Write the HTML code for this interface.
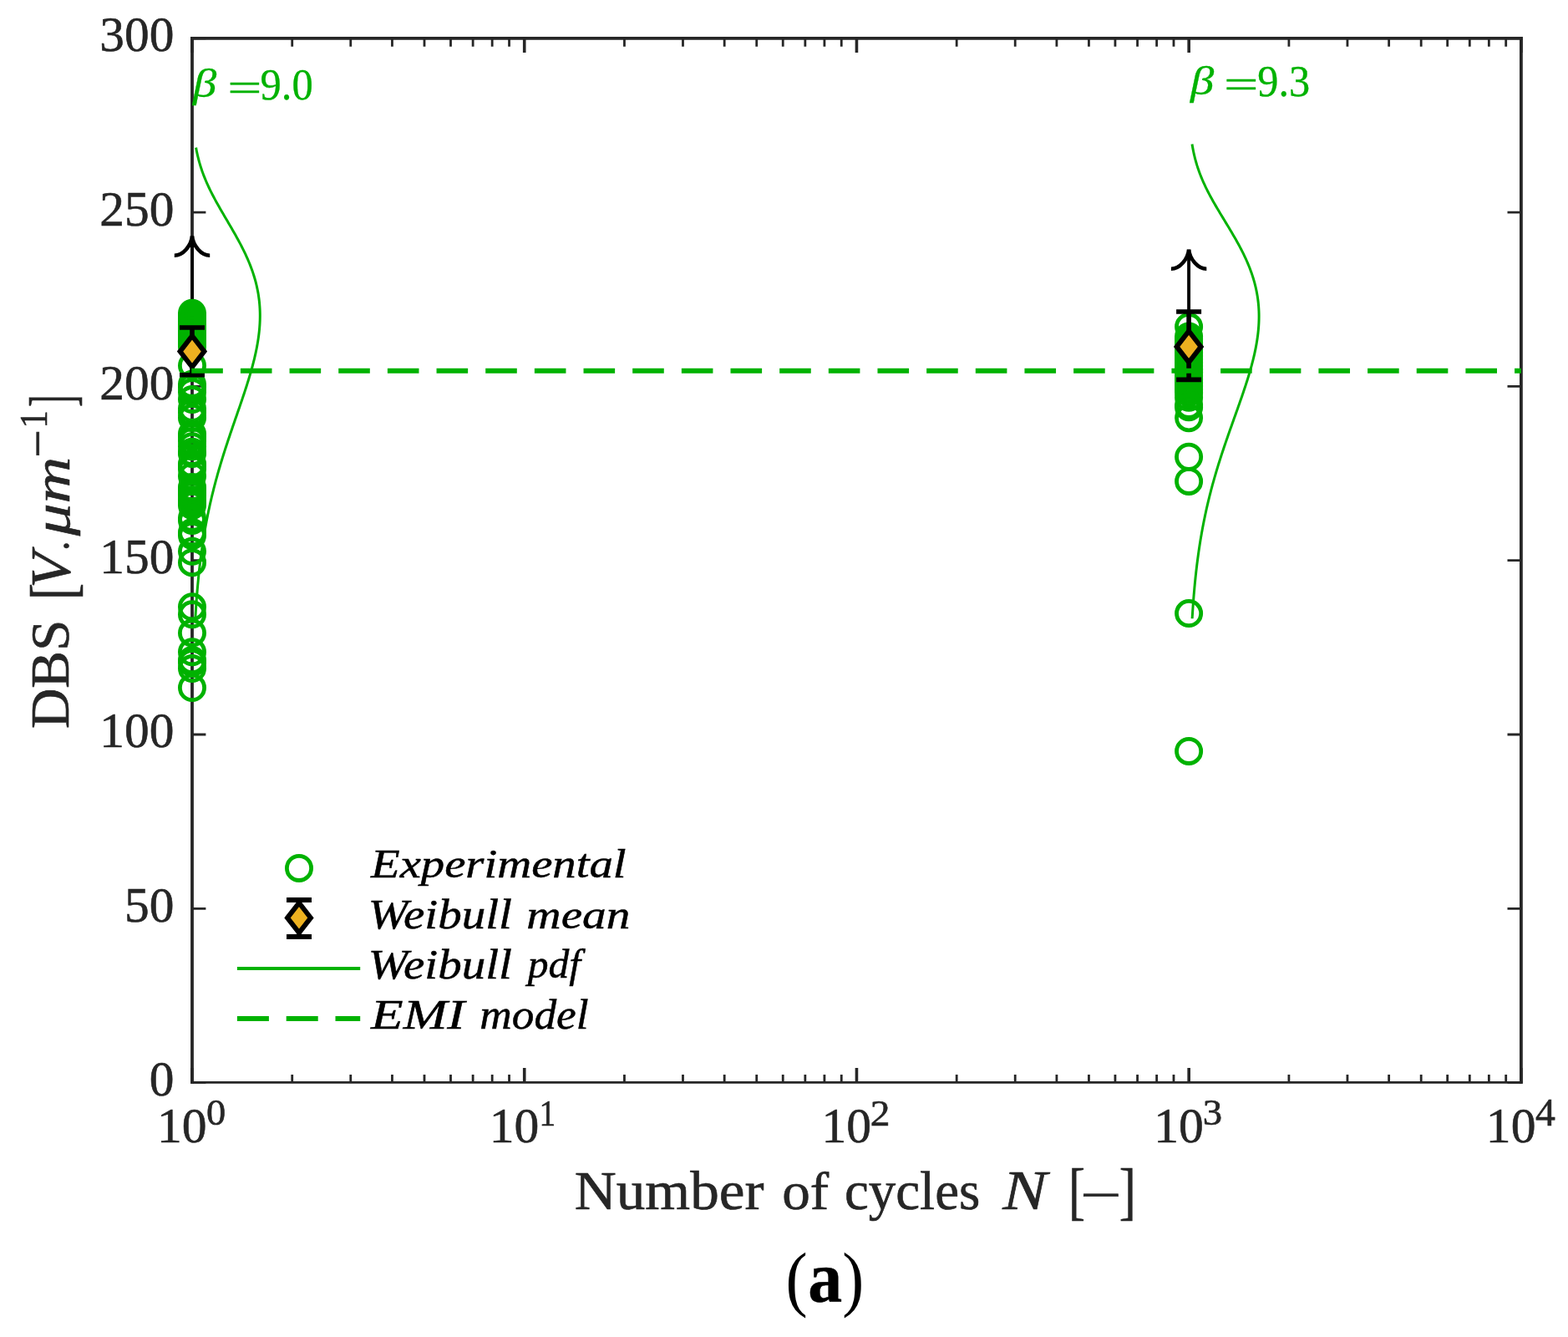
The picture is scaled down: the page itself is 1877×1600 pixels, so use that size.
<!DOCTYPE html>
<html><head><meta charset="utf-8"><title>DBS vs number of cycles</title><style>html,body{margin:0;padding:0;background:#fff;overflow:hidden}svg{display:block}</style></head><body>
<svg width="1877" height="1600" viewBox="0 0 1877 1600" font-family="'Liberation Serif', serif">
<rect width="1877" height="1600" fill="#fff"/>
<path d="M230.00 1295.30H246.40M1820.90 1295.30H1804.50M230.00 1087.30H246.40M1820.90 1087.30H1804.50M230.00 879.00H246.40M1820.90 879.00H1804.50M230.00 670.70H246.40M1820.90 670.70H1804.50M230.00 462.40H246.40M1820.90 462.40H1804.50M230.00 254.10H246.40M1820.90 254.10H1804.50M230.00 45.90H246.40M1820.90 45.90H1804.50" stroke="#262626" stroke-width="2.8" fill="none"/>
<path d="M230.00 1295.30V1278.10M230.00 45.90V63.10M627.73 1295.30V1278.10M627.73 45.90V63.10M1025.45 1295.30V1278.10M1025.45 45.90V63.10M1423.18 1295.30V1278.10M1423.18 45.90V63.10M1820.90 1295.30V1278.10M1820.90 45.90V63.10" stroke="#262626" stroke-width="3.6" fill="none"/>
<path d="M349.73 1295.30V1285.90M349.73 45.90V55.70M419.76 1295.30V1285.90M419.76 45.90V55.70M469.45 1295.30V1285.90M469.45 45.90V55.70M508.00 1295.30V1285.90M508.00 45.90V55.70M539.49 1295.30V1285.90M539.49 45.90V55.70M566.12 1295.30V1285.90M566.12 45.90V55.70M589.18 1295.30V1285.90M589.18 45.90V55.70M609.53 1295.30V1285.90M609.53 45.90V55.70M747.45 1295.30V1285.90M747.45 45.90V55.70M817.49 1295.30V1285.90M817.49 45.90V55.70M867.18 1295.30V1285.90M867.18 45.90V55.70M905.72 1295.30V1285.90M905.72 45.90V55.70M937.22 1295.30V1285.90M937.22 45.90V55.70M963.84 1295.30V1285.90M963.84 45.90V55.70M986.91 1295.30V1285.90M986.91 45.90V55.70M1007.25 1295.30V1285.90M1007.25 45.90V55.70M1145.18 1295.30V1285.90M1145.18 45.90V55.70M1215.21 1295.30V1285.90M1215.21 45.90V55.70M1264.90 1295.30V1285.90M1264.90 45.90V55.70M1303.45 1295.30V1285.90M1303.45 45.90V55.70M1334.94 1295.30V1285.90M1334.94 45.90V55.70M1361.57 1295.30V1285.90M1361.57 45.90V55.70M1384.63 1295.30V1285.90M1384.63 45.90V55.70M1404.98 1295.30V1285.90M1404.98 45.90V55.70M1542.90 1295.30V1285.90M1542.90 45.90V55.70M1612.94 1295.30V1285.90M1612.94 45.90V55.70M1662.63 1295.30V1285.90M1662.63 45.90V55.70M1701.17 1295.30V1285.90M1701.17 45.90V55.70M1732.67 1295.30V1285.90M1732.67 45.90V55.70M1759.29 1295.30V1285.90M1759.29 45.90V55.70M1782.36 1295.30V1285.90M1782.36 45.90V55.70M1802.70 1295.30V1285.90M1802.70 45.90V55.70" stroke="#262626" stroke-width="2.8" fill="none"/>
<path d="M230.0 44.0V1296.7M1820.9 44.0V1296.7" stroke="#262626" stroke-width="3.8" fill="none"/>
<path d="M228.1 45.9H1822.8000000000002" stroke="#262626" stroke-width="3.8" fill="none"/>
<path d="M228.1 1295.3H1822.8000000000002" stroke="#262626" stroke-width="2.8" fill="none"/>
<path d="M230.00 420.60V284.40" stroke="#000" stroke-width="3.9" fill="none"/><path d="M230.00 282.50C229.00 294.00 219.00 305.70 208.80 305.70" stroke="#000" stroke-width="4.6" fill="none"/><path d="M230.00 282.50C231.00 294.00 241.00 305.70 251.20 305.70" stroke="#000" stroke-width="4.6" fill="none"/>
<path d="M1423.10 415.00V300.50" stroke="#000" stroke-width="3.9" fill="none"/><path d="M1423.10 298.60C1422.10 310.10 1412.10 321.80 1401.90 321.80" stroke="#000" stroke-width="4.6" fill="none"/><path d="M1423.10 298.60C1424.10 310.10 1434.10 321.80 1444.30 321.80" stroke="#000" stroke-width="4.6" fill="none"/>
<g fill="none" stroke="rgb(0,178,0)" stroke-width="4.8"><circle cx="230.0" cy="374.75" r="14.6"/><circle cx="230.0" cy="378.00" r="14.6"/><circle cx="230.0" cy="381.00" r="14.6"/><circle cx="230.0" cy="384.00" r="14.6"/><circle cx="230.0" cy="387.50" r="14.6"/><circle cx="230.0" cy="391.00" r="14.6"/><circle cx="230.0" cy="395.00" r="14.6"/><circle cx="230.0" cy="399.00" r="14.6"/><circle cx="230.0" cy="403.00" r="14.6"/><circle cx="230.0" cy="407.00" r="14.6"/><circle cx="230.0" cy="411.00" r="14.6"/><circle cx="230.0" cy="415.00" r="14.6"/><circle cx="230.0" cy="437.50" r="14.6"/><circle cx="230.0" cy="459.80" r="14.6"/><circle cx="230.0" cy="463.50" r="14.6"/><circle cx="230.0" cy="469.20" r="14.6"/><circle cx="230.0" cy="478.10" r="14.6"/><circle cx="230.0" cy="488.80" r="14.6"/><circle cx="230.0" cy="494.00" r="14.6"/><circle cx="230.0" cy="500.00" r="14.6"/><circle cx="230.0" cy="519.00" r="14.6"/><circle cx="230.0" cy="523.00" r="14.6"/><circle cx="230.0" cy="528.00" r="14.6"/><circle cx="230.0" cy="534.20" r="14.6"/><circle cx="230.0" cy="540.75" r="14.6"/><circle cx="230.0" cy="543.00" r="14.6"/><circle cx="230.0" cy="555.00" r="14.6"/><circle cx="230.0" cy="558.00" r="14.6"/><circle cx="230.0" cy="561.50" r="14.6"/><circle cx="230.0" cy="570.00" r="14.6"/><circle cx="230.0" cy="583.00" r="14.6"/><circle cx="230.0" cy="587.00" r="14.6"/><circle cx="230.0" cy="590.00" r="14.6"/><circle cx="230.0" cy="593.00" r="14.6"/><circle cx="230.0" cy="598.00" r="14.6"/><circle cx="230.0" cy="601.00" r="14.6"/><circle cx="230.0" cy="605.00" r="14.6"/><circle cx="230.0" cy="619.80" r="14.6"/><circle cx="230.0" cy="623.00" r="14.6"/><circle cx="230.0" cy="637.00" r="14.6"/><circle cx="230.0" cy="641.00" r="14.6"/><circle cx="230.0" cy="659.80" r="14.6"/><circle cx="230.0" cy="673.20" r="14.6"/><circle cx="230.0" cy="726.30" r="14.6"/><circle cx="230.0" cy="735.30" r="14.6"/><circle cx="230.0" cy="757.50" r="14.6"/><circle cx="230.0" cy="780.25" r="14.6"/><circle cx="230.0" cy="790.00" r="14.6"/><circle cx="230.0" cy="793.20" r="14.6"/><circle cx="230.0" cy="800.00" r="14.6"/><circle cx="230.0" cy="823.00" r="14.6"/><circle cx="1423.1" cy="391.00" r="14.6"/><circle cx="1423.1" cy="402.50" r="14.6"/><circle cx="1423.1" cy="406.00" r="14.6"/><circle cx="1423.1" cy="410.00" r="14.6"/><circle cx="1423.1" cy="414.00" r="14.6"/><circle cx="1423.1" cy="418.00" r="14.6"/><circle cx="1423.1" cy="422.00" r="14.6"/><circle cx="1423.1" cy="426.00" r="14.6"/><circle cx="1423.1" cy="430.00" r="14.6"/><circle cx="1423.1" cy="434.00" r="14.6"/><circle cx="1423.1" cy="438.00" r="14.6"/><circle cx="1423.1" cy="442.00" r="14.6"/><circle cx="1423.1" cy="446.00" r="14.6"/><circle cx="1423.1" cy="450.00" r="14.6"/><circle cx="1423.1" cy="454.00" r="14.6"/><circle cx="1423.1" cy="458.00" r="14.6"/><circle cx="1423.1" cy="462.00" r="14.6"/><circle cx="1423.1" cy="466.00" r="14.6"/><circle cx="1423.1" cy="470.00" r="14.6"/><circle cx="1423.1" cy="475.75" r="14.6"/><circle cx="1423.1" cy="484.85" r="14.6"/><circle cx="1423.1" cy="487.30" r="14.6"/><circle cx="1423.1" cy="500.20" r="14.6"/><circle cx="1423.1" cy="546.75" r="14.6"/><circle cx="1423.1" cy="575.90" r="14.6"/><circle cx="1423.1" cy="734.05" r="14.6"/><circle cx="1423.1" cy="898.90" r="14.6"/></g>
<path d="M230.00 392.00V448.70M215.00 392.00H245.00M215.00 448.70H245.00" stroke="#000" stroke-width="5.6" fill="none"/><path d="M215.50 420.60L230.00 402.00L244.50 420.60L230.00 439.20Z" fill="#EDB120" stroke="#000" stroke-width="5.8" stroke-linejoin="miter" stroke-miterlimit="10"/>
<path d="M1423.10 373.00V454.40M1408.10 373.00H1438.10M1408.10 454.40H1438.10" stroke="#000" stroke-width="5.6" fill="none"/><path d="M1408.60 414.90L1423.10 396.30L1437.60 414.90L1423.10 433.50Z" fill="#EDB120" stroke="#000" stroke-width="5.8" stroke-linejoin="miter" stroke-miterlimit="10"/>
<path d="M229.24 443.8H1820.9" stroke="rgb(0,178,0)" stroke-width="6" stroke-dasharray="37.6 21.06" fill="none"/>
<path d="M233.85 739.86 L234.01 737.03 L234.18 734.19 L234.36 731.36 L234.54 728.53 L234.72 725.70 L234.92 722.87 L235.12 720.04 L235.32 717.21 L235.54 714.38 L235.76 711.55 L235.99 708.72 L236.22 705.89 L236.46 703.06 L236.72 700.23 L236.98 697.40 L237.24 694.57 L237.52 691.74 L237.80 688.91 L238.10 686.08 L238.40 683.25 L238.71 680.42 L239.04 677.59 L239.37 674.76 L239.71 671.93 L240.06 669.10 L240.42 666.27 L240.79 663.44 L241.17 660.61 L241.57 657.77 L241.97 654.94 L242.39 652.11 L242.81 649.28 L243.25 646.45 L243.70 643.62 L244.16 640.79 L244.63 637.96 L245.12 635.13 L245.62 632.30 L246.12 629.47 L246.65 626.64 L247.18 623.81 L247.73 620.98 L248.29 618.15 L248.86 615.32 L249.45 612.49 L250.05 609.66 L250.66 606.83 L251.28 604.00 L251.92 601.17 L252.57 598.34 L253.24 595.51 L253.92 592.68 L254.61 589.85 L255.31 587.02 L256.03 584.19 L256.76 581.36 L257.50 578.52 L258.26 575.69 L259.03 572.86 L259.81 570.03 L260.60 567.20 L261.41 564.37 L262.23 561.54 L263.06 558.71 L263.90 555.88 L264.75 553.05 L265.61 550.22 L266.49 547.39 L267.37 544.56 L268.26 541.73 L269.17 538.90 L270.08 536.07 L271.00 533.24 L271.93 530.41 L272.87 527.58 L273.81 524.75 L274.76 521.92 L275.72 519.09 L276.68 516.26 L277.65 513.43 L278.62 510.60 L279.59 507.77 L280.57 504.94 L281.55 502.10 L282.53 499.27 L283.51 496.44 L284.49 493.61 L285.47 490.78 L286.45 487.95 L287.42 485.12 L288.39 482.29 L289.35 479.46 L290.31 476.63 L291.26 473.80 L292.21 470.97 L293.14 468.14 L294.07 465.31 L294.98 462.48 L295.88 459.65 L296.77 456.82 L297.64 453.99 L298.50 451.16 L299.34 448.33 L300.16 445.50 L300.97 442.67 L301.75 439.84 L302.51 437.01 L303.25 434.18 L303.96 431.35 L304.65 428.52 L305.31 425.68 L305.95 422.85 L306.55 420.02 L307.13 417.19 L307.67 414.36 L308.18 411.53 L308.65 408.70 L309.09 405.87 L309.50 403.04 L309.86 400.21 L310.19 397.38 L310.47 394.55 L310.72 391.72 L310.92 388.89 L311.07 386.06 L311.19 383.23 L311.25 380.40 L311.28 377.57 L311.25 374.74 L311.17 371.91 L311.05 369.08 L310.87 366.25 L310.64 363.42 L310.37 360.59 L310.04 357.76 L309.65 354.93 L309.22 352.10 L308.73 349.26 L308.18 346.43 L307.58 343.60 L306.93 340.77 L306.23 337.94 L305.47 335.11 L304.65 332.28 L303.79 329.45 L302.87 326.62 L301.89 323.79 L300.87 320.96 L299.79 318.13 L298.67 315.30 L297.50 312.47 L296.28 309.64 L295.01 306.81 L293.70 303.98 L292.35 301.15 L290.96 298.32 L289.53 295.49 L288.07 292.66 L286.57 289.83 L285.04 287.00 L283.48 284.17 L281.90 281.34 L280.30 278.51 L278.68 275.68 L277.04 272.84 L275.39 270.01 L273.73 267.18 L272.06 264.35 L270.40 261.52 L268.74 258.69 L267.08 255.86 L265.43 253.03 L263.80 250.20 L262.18 247.37 L260.58 244.54 L259.01 241.71 L257.46 238.88 L255.95 236.05 L254.47 233.22 L253.02 230.39 L251.62 227.56 L250.25 224.73 L248.93 221.90 L247.66 219.07 L246.43 216.24 L245.26 213.41 L244.13 210.58 L243.05 207.75 L242.03 204.92 L241.06 202.09 L240.14 199.26 L239.27 196.42 L238.46 193.59 L237.70 190.76 L236.98 187.93 L236.32 185.10 L235.70 182.27 L235.12 179.44 L234.60 176.61" stroke="rgb(0,178,0)" stroke-width="3" fill="none" stroke-linejoin="round"/>
<path d="M1427.13 740.27 L1427.30 737.42 L1427.48 734.57 L1427.66 731.71 L1427.85 728.86 L1428.05 726.01 L1428.26 723.15 L1428.47 720.30 L1428.69 717.45 L1428.91 714.59 L1429.14 711.74 L1429.39 708.88 L1429.64 706.03 L1429.89 703.18 L1430.16 700.32 L1430.43 697.47 L1430.72 694.62 L1431.01 691.76 L1431.31 688.91 L1431.62 686.06 L1431.94 683.20 L1432.27 680.35 L1432.61 677.50 L1432.96 674.64 L1433.33 671.79 L1433.70 668.94 L1434.08 666.08 L1434.47 663.23 L1434.88 660.38 L1435.29 657.52 L1435.72 654.67 L1436.16 651.82 L1436.61 648.96 L1437.08 646.11 L1437.55 643.26 L1438.04 640.40 L1438.54 637.55 L1439.06 634.70 L1439.58 631.84 L1440.12 628.99 L1440.68 626.14 L1441.24 623.28 L1441.82 620.43 L1442.41 617.58 L1443.02 614.72 L1443.64 611.87 L1444.27 609.02 L1444.92 606.16 L1445.58 603.31 L1446.26 600.46 L1446.95 597.60 L1447.65 594.75 L1448.37 591.90 L1449.10 589.04 L1449.84 586.19 L1450.60 583.34 L1451.37 580.48 L1452.16 577.63 L1452.95 574.78 L1453.77 571.92 L1454.59 569.07 L1455.43 566.22 L1456.28 563.36 L1457.14 560.51 L1458.01 557.65 L1458.90 554.80 L1459.79 551.95 L1460.70 549.09 L1461.62 546.24 L1462.55 543.39 L1463.49 540.53 L1464.44 537.68 L1465.40 534.83 L1466.36 531.97 L1467.34 529.12 L1468.32 526.27 L1469.31 523.41 L1470.30 520.56 L1471.30 517.71 L1472.31 514.85 L1473.32 512.00 L1474.33 509.15 L1475.35 506.29 L1476.36 503.44 L1477.38 500.59 L1478.40 497.73 L1479.42 494.88 L1480.44 492.03 L1481.45 489.17 L1482.47 486.32 L1483.47 483.47 L1484.48 480.61 L1485.47 477.76 L1486.46 474.91 L1487.44 472.05 L1488.41 469.20 L1489.37 466.35 L1490.32 463.49 L1491.26 460.64 L1492.18 457.79 L1493.08 454.93 L1493.97 452.08 L1494.84 449.23 L1495.70 446.37 L1496.53 443.52 L1497.34 440.67 L1498.13 437.81 L1498.89 434.96 L1499.63 432.11 L1500.34 429.25 L1501.03 426.40 L1501.68 423.55 L1502.30 420.69 L1502.89 417.84 L1503.45 414.99 L1503.98 412.13 L1504.46 409.28 L1504.91 406.42 L1505.33 403.57 L1505.70 400.72 L1506.03 397.86 L1506.32 395.01 L1506.56 392.16 L1506.76 389.30 L1506.92 386.45 L1507.02 383.60 L1507.08 380.74 L1507.09 377.89 L1507.06 375.04 L1506.97 372.18 L1506.82 369.33 L1506.63 366.48 L1506.38 363.62 L1506.08 360.77 L1505.72 357.92 L1505.31 355.06 L1504.84 352.21 L1504.32 349.36 L1503.74 346.50 L1503.10 343.65 L1502.41 340.80 L1501.66 337.94 L1500.85 335.09 L1499.99 332.24 L1499.07 329.38 L1498.10 326.53 L1497.07 323.68 L1495.99 320.82 L1494.85 317.97 L1493.67 315.12 L1492.43 312.26 L1491.15 309.41 L1489.82 306.56 L1488.44 303.70 L1487.02 300.85 L1485.55 298.00 L1484.05 295.14 L1482.51 292.29 L1480.94 289.44 L1479.34 286.58 L1477.71 283.73 L1476.05 280.88 L1474.37 278.02 L1472.68 275.17 L1470.96 272.32 L1469.24 269.46 L1467.51 266.61 L1465.78 263.76 L1464.04 260.90 L1462.31 258.05 L1460.59 255.19 L1458.88 252.34 L1457.18 249.49 L1455.51 246.63 L1453.85 243.78 L1452.23 240.93 L1450.63 238.07 L1449.07 235.22 L1447.55 232.37 L1446.06 229.51 L1444.62 226.66 L1443.23 223.81 L1441.88 220.95 L1440.58 218.10 L1439.33 215.25 L1438.14 212.39 L1436.99 209.54 L1435.91 206.69 L1434.87 203.83 L1433.90 200.98 L1432.97 198.13 L1432.11 195.27 L1431.29 192.42 L1430.53 189.57 L1429.82 186.71 L1429.16 183.86 L1428.55 181.01 L1427.99 178.15 L1427.47 175.30 L1426.99 172.45" stroke="rgb(0,178,0)" stroke-width="3" fill="none" stroke-linejoin="round"/>
<g><text transform="translate(178.75,1310.70) scale(0.9891,1)" font-size="60.06" fill="#262626" stroke="#262626" stroke-width="0.60">0</text><text transform="translate(149.05,1102.70) scale(0.9891,1)" font-size="60.06" fill="#262626" stroke="#262626" stroke-width="0.60">50</text><text transform="translate(119.35,894.40) scale(0.9891,1)" font-size="60.06" fill="#262626" stroke="#262626" stroke-width="0.60">100</text><text transform="translate(119.35,686.10) scale(0.9891,1)" font-size="60.06" fill="#262626" stroke="#262626" stroke-width="0.60">150</text><text transform="translate(119.35,477.80) scale(0.9891,1)" font-size="60.06" fill="#262626" stroke="#262626" stroke-width="0.60">200</text><text transform="translate(119.35,269.50) scale(0.9891,1)" font-size="60.06" fill="#262626" stroke="#262626" stroke-width="0.60">250</text><text transform="translate(119.35,61.30) scale(0.9891,1)" font-size="60.06" fill="#262626" stroke="#262626" stroke-width="0.60">300</text><text transform="translate(187.95,1367.41) scale(1.0024,1)" font-size="59.47" fill="#262626" stroke="#262626" stroke-width="0.60">10</text><text transform="translate(246.94,1346.41) scale(1.0500,1)" font-size="44.23" fill="#262626" stroke="#262626" stroke-width="0.60">0</text><text transform="translate(585.68,1367.41) scale(1.0024,1)" font-size="59.47" fill="#262626" stroke="#262626" stroke-width="0.60">10</text><text transform="translate(645.53,1346.85) scale(0.8654,1)" font-size="45.30" fill="#262626" stroke="#262626" stroke-width="0.60">1</text><text transform="translate(983.40,1367.41) scale(1.0024,1)" font-size="59.47" fill="#262626" stroke="#262626" stroke-width="0.60">10</text><text transform="translate(1041.86,1346.85) scale(1.0500,1)" font-size="45.17" fill="#262626" stroke="#262626" stroke-width="0.60">2</text><text transform="translate(1381.13,1367.41) scale(1.0024,1)" font-size="59.47" fill="#262626" stroke="#262626" stroke-width="0.60">10</text><text transform="translate(1439.78,1346.41) scale(1.0500,1)" font-size="44.49" fill="#262626" stroke="#262626" stroke-width="0.60">3</text><text transform="translate(1778.85,1367.41) scale(1.0024,1)" font-size="59.47" fill="#262626" stroke="#262626" stroke-width="0.60">10</text><text transform="translate(1837.95,1346.85) scale(1.0500,1)" font-size="45.44" fill="#262626" stroke="#262626" stroke-width="0.60">4</text><text transform="translate(687.76,1446.86) scale(1.0735,1)" font-size="64.49" fill="#262626" stroke="#262626" stroke-width="0.60">Number</text><text transform="translate(936.25,1446.86) scale(1.0570,1)" font-size="63.59" fill="#262626" stroke="#262626" stroke-width="0.60">of</text><text transform="translate(1011.03,1447.02) scale(1.0030,1)" font-size="64.73" fill="#262626" stroke="#262626" stroke-width="0.60">cycles</text><text transform="translate(1200.14,1447.00) scale(1.1946,1)" font-size="66.67" font-style="italic" fill="#262626" stroke="#262626" stroke-width="0.60">N</text><text transform="translate(1279.04,1451.22) scale(0.8010,1)" font-size="75.24" fill="#262626" stroke="#262626" stroke-width="0.60">[</text><text transform="translate(1293.10,1449.86) scale(1.4664,1)" font-size="60.00" fill="#262626" stroke="#262626" stroke-width="0.60">−</text><text transform="translate(1339.84,1451.22) scale(0.7962,1)" font-size="75.24" fill="#262626" stroke="#262626" stroke-width="0.60">]</text><text transform="translate(82.25,872.08) rotate(-90) scale(1.0299,1)" font-size="65.03" fill="#262626" stroke="#262626" stroke-width="0.60">DBS</text><text transform="translate(88.66,718.09) rotate(-90) scale(0.7867,1)" font-size="77.17" fill="#262626" stroke="#262626" stroke-width="0.60">[</text><text transform="translate(82.68,703.63) rotate(-90) scale(1.0384,1)" font-size="67.16" font-style="italic" fill="#262626" stroke="#262626" stroke-width="0.60">V</text><text transform="translate(81.79,659.08) rotate(-90) scale(0.9167,1)" font-size="50.85" fill="#262626" stroke="#262626" stroke-width="0.60">.</text><text transform="translate(83.40,641.35) rotate(-90) scale(1.2622,1)" font-size="61.22" font-style="italic" fill="#262626" stroke="#262626" stroke-width="0.60">μm</text><text transform="translate(64.61,547.73) rotate(-90) scale(0.9925,1)" font-size="60.00" fill="#262626" stroke="#262626" stroke-width="0.60">−</text><text transform="translate(56.00,512.50) rotate(-90) scale(0.9375,1)" font-size="45.45" fill="#262626" stroke="#262626" stroke-width="0.60">1</text><text transform="translate(88.43,487.08) rotate(-90) scale(0.5704,1)" font-size="76.99" fill="#262626" stroke="#262626" stroke-width="0.60">]</text><text transform="translate(443.98,1050.20) scale(1.1789,1)" font-size="48.12" font-style="italic" fill="#000" stroke="#000" stroke-width="0.50">Experimental</text><text transform="translate(440.74,1110.70) scale(1.1406,1)" font-size="50.00" font-style="italic" fill="#000" stroke="#000" stroke-width="0.50">Weibull</text><text transform="translate(630.34,1111.01) scale(1.1739,1)" font-size="48.76" font-style="italic" fill="#000" stroke="#000" stroke-width="0.50">mean</text><text transform="translate(440.74,1170.60) scale(1.1438,1)" font-size="49.86" font-style="italic" fill="#000" stroke="#000" stroke-width="0.50">Weibull</text><text transform="translate(631.78,1170.34) scale(1.0049,1)" font-size="49.34" font-style="italic" fill="#000" stroke="#000" stroke-width="0.50">pdf</text><text transform="translate(444.06,1231.00) scale(1.2409,1)" font-size="50.92" font-style="italic" fill="#000" stroke="#000" stroke-width="0.50">EMI</text><text transform="translate(574.18,1230.50) scale(1.0732,1)" font-size="49.72" font-style="italic" fill="#000" stroke="#000" stroke-width="0.50">model</text><text transform="translate(231.01,116.33) scale(1.1581,1)" font-size="48.91" font-style="italic" fill="rgb(0,178,0)" stroke="rgb(0,178,0)" stroke-width="0.30">β</text><text transform="translate(272.34,121.33) scale(1.4873,1)" font-size="49.20" fill="rgb(0,178,0)" stroke="rgb(0,178,0)" stroke-width="0.30">=</text><text transform="translate(311.58,118.66) scale(0.9610,1)" font-size="52.65" fill="rgb(0,178,0)" stroke="rgb(0,178,0)" stroke-width="0.30">9.0</text><text transform="translate(1424.91,112.53) scale(1.1581,1)" font-size="48.91" font-style="italic" fill="rgb(0,178,0)" stroke="rgb(0,178,0)" stroke-width="0.30">β</text><text transform="translate(1465.06,117.48) scale(1.4982,1)" font-size="49.20" fill="rgb(0,178,0)" stroke="rgb(0,178,0)" stroke-width="0.30">=</text><text transform="translate(1505.29,114.56) scale(0.9564,1)" font-size="52.59" fill="rgb(0,178,0)" stroke="rgb(0,178,0)" stroke-width="0.30">9.3</text><text transform="translate(940.45,1558.67) scale(0.9132,1)" font-size="85.98" fill="#000">(</text><text transform="translate(1008.21,1558.67) scale(0.9061,1)" font-size="85.98" fill="#000">)</text><text transform="translate(967.28,1558.04) scale(0.9546,1)" font-size="85.83" font-weight="bold" fill="#000" stroke="#000" stroke-width="0.40">a</text></g>
<circle cx="358" cy="1038.9" r="14.6" fill="none" stroke="rgb(0,178,0)" stroke-width="4.8"/>
<path d="M358 1077V1121M343 1077H373M343 1121H373" stroke="#000" stroke-width="5.8" fill="none"/>
<path d="M344 1098.4L358 1080.4L372 1098.4L358 1116.4Z" fill="#EDB120" stroke="#000" stroke-width="5.8" stroke-linejoin="miter" stroke-miterlimit="10"/>
<path d="M283.9 1159H431.2" stroke="rgb(0,178,0)" stroke-width="4" fill="none"/>
<path d="M283.9 1219H431.2" stroke="rgb(0,178,0)" stroke-width="6" stroke-dasharray="38 20.8" fill="none"/>
</svg>
</body></html>
